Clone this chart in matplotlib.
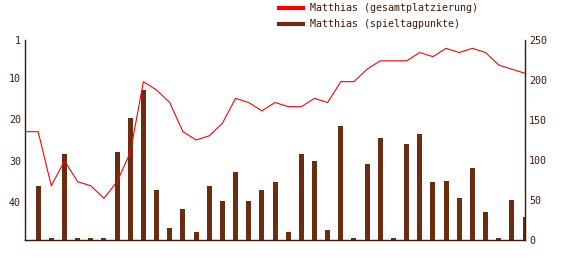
import matplotlib
matplotlib.use("Agg")
import matplotlib.pyplot as plt
from matplotlib.lines import Line2D

days = list(range(0, 39))
platzierung = [23, 23, 36, 30, 35, 36, 39, 35, 28, 11, 13, 16, 23, 25, 24, 21, 15, 16, 18, 16,
               17, 17, 15, 16, 11, 11, 8, 6, 6, 6, 4, 5, 3, 4, 3, 4, 7, 8, 9]
punkte = [0, 67, 2, 107, 2, 2, 2, 110, 152, 187, 62, 15, 39, 10, 67, 49, 85, 49, 62, 72,
          10, 108, 99, 12, 143, 2, 95, 128, 2, 120, 132, 72, 74, 53, 90, 35, 2, 50, 29]

left_ticks = [1, 10, 20, 30, 40]
right_ticks = [0, 50, 100, 150, 200, 250]

label_line = "Matthias (gesamtplatzierung)"
label_bar = "Matthias (spieltagpunkte)"

red = "#ff0000"
brown = "#6b2d0f"
axis_col = "#3a1a0a"
font = "DejaVu Sans Mono"
fs = 7.2

fig = plt.figure(figsize=(5.75, 2.8), dpi=100)
ax2 = fig.add_axes([25/575, 40/280, 500/575, 200/280])
ax = ax2.twinx()

ax2.bar(days, punkte, width=0.38, color=brown, zorder=2)
ax2.set_ylim(0, 250)
ax2.set_xlim(0, 38)

ax.plot(days, platzierung, color=red, linewidth=0.8, zorder=3)
ax.set_ylim(49, 1)

ax.yaxis.tick_left()
ax.yaxis.set_label_position("left")
ax2.yaxis.tick_right()
ax.set_yticks(left_ticks)
ax.set_yticklabels([str(t) for t in left_ticks])
ax2.set_yticks(right_ticks)
ax2.set_yticklabels([str(t) for t in right_ticks])
ax2.set_xticks([])
ax.set_xticks([])

for a in (ax, ax2):
    a.tick_params(axis="y", length=0, pad=3, labelsize=fs, labelcolor=axis_col)
    for lab in a.get_yticklabels():
        lab.set_family(font)
    for s in a.spines.values():
        s.set_visible(False)
    a.patch.set_visible(False)

for k in ("left", "right", "bottom"):
    ax2.spines[k].set_visible(True)
    ax2.spines[k].set_color(axis_col)
    ax2.spines[k].set_linewidth(1.0)

handles = [Line2D([0], [0], color=red, lw=3), Line2D([0], [0], color=brown, lw=3)]
fig.legend(handles, [label_line, label_bar], loc="upper left", bbox_to_anchor=(272/575, 1.0 + 4/280),
           frameon=False, prop={"family": font, "size": fs}, handlelength=2.4,
           handletextpad=0.7, labelspacing=0.6, borderpad=0.2, labelcolor=axis_col)

fig.savefig("out.png", dpi=100)
